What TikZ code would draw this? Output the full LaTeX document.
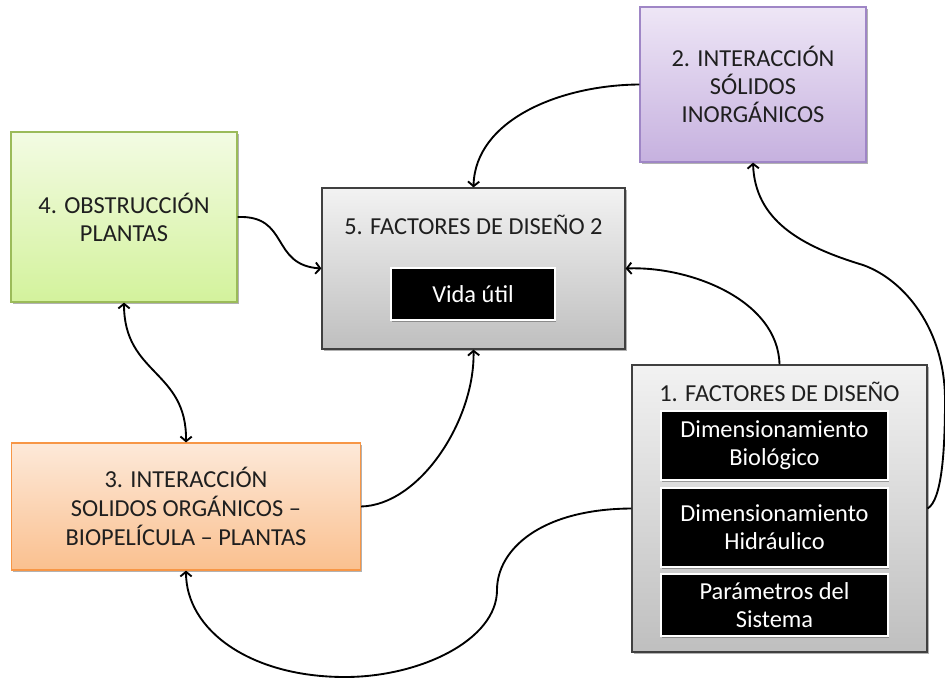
\documentclass[tikz,border=0pt]{standalone}
\usepackage{fontspec}
\setmainfont{Carlito}
\usetikzlibrary{arrows.meta,shadows}
\definecolor{purT}{HTML}{EEE6F6}
\definecolor{purB}{HTML}{C6B1DF}
\definecolor{purD}{HTML}{9F86C6}
\definecolor{grnT}{HTML}{F3FBE3}
\definecolor{grnB}{HTML}{D3F29C}
\definecolor{grnD}{HTML}{9BBB59}
\definecolor{orgT}{HTML}{FDE9D9}
\definecolor{orgB}{HTML}{FAC08F}
\definecolor{orgD}{HTML}{F79646}
\definecolor{gryT}{HTML}{F2F2F2}
\definecolor{gryB}{HTML}{BFBFBF}
\definecolor{gryD}{HTML}{404040}
\begin{document}
\begin{tikzpicture}[x=0.75pt,y=-0.75pt,
  txt/.style={font=\fontsize{18.3}{21}\selectfont, align=center, inner sep=0pt, text=black!88},
  box/.style={rectangle, txt, line width=0.9pt,
    drop shadow={shadow xshift=1.2pt,shadow yshift=-1.5pt,opacity=0.3,fill=black}},
  purplebox/.style={box, draw=purD, top color=purT, bottom color=purB},
  greenbox/.style={box, draw=grnD, top color=grnT, bottom color=grnB},
  orangebox/.style={box, draw=orgD, top color=orgT, bottom color=orgB},
  graybox/.style={box, draw=gryD, top color=gryT, bottom color=gryB},
  blackbox/.style={rectangle, txt, text=white, fill=black, draw=white, line width=1.6pt,
    drop shadow={shadow xshift=1pt,shadow yshift=-1.2pt,opacity=0.3,fill=black}},
  conn/.style={line width=1.4pt, -{Straight Barb[length=3.5pt,width=8.5pt]}},
  conn2/.style={line width=1.4pt, {Straight Barb[length=3.5pt,width=8.5pt]}-{Straight Barb[length=3.5pt,width=8.5pt]}}
]
\useasboundingbox (0,0) rectangle (945,679);

\node[purplebox, minimum width=169.5pt, minimum height=116.25pt] (b2) at (753,84.5) {2. INTERACCIÓN\\SÓLIDOS\\INORGÁNICOS};
\node[greenbox, minimum width=169.5pt, minimum height=127.5pt] (b4) at (124,217) {4. OBSTRUCCIÓN\\PLANTAS};
\node[graybox, minimum width=227.25pt, minimum height=120.75pt] (b5) at (473.5,268.5) {};
\node[txt] (b5t) at (473.5,225) {5. FACTORES DE DISEÑO 2};
\node[blackbox, minimum width=123pt, minimum height=39pt] (vida) at (473,294) {Vida útil};
\node[graybox, minimum width=221.25pt, minimum height=215.25pt] (b1) at (779.5,508.5) {};
\node[txt] (b1t) at (779.5,392) {1. FACTORES DE DISEÑO};
\node[blackbox, minimum width=170.25pt, minimum height=51.75pt] (d1) at (774.5,445.5) {Dimensionamiento\\Biológico};
\node[blackbox, minimum width=170.25pt, minimum height=59.25pt] (d2) at (774.5,527.5) {Dimensionamiento\\Hidráulico};
\node[blackbox, minimum width=170.25pt, minimum height=46.5pt] (d3) at (774.5,605) {Parámetros del\\Sistema};
\node[orangebox, minimum width=261.75pt, minimum height=95.25pt, font=\fontsize{18.3}{22}\selectfont] (b3) at (186,506.5) {3. INTERACCIÓN\\SOLIDOS ORGÁNICOS –\\BIOPELÍCULA – PLANTAS};

\coordinate (c6a) at (497,590);
\coordinate (c6b) at (345,677);
\coordinate (c7a) at (945,400);
\coordinate (c7b) at (863,265);

\draw[conn] (b2.west) .. controls (560,85) and (475,120) .. (b5.north);
\draw[conn] (b4.east) .. controls (290,215) and (270,265) .. (b5.west);
\draw[conn] (b1.north) .. controls (778,300) and (690,266) .. (b5.east);
\draw[conn] (b3.east) .. controls (420,505) and (475,420) .. (b5.south);
\draw[conn2] (b4.south) .. controls (124,375) and (187,370) .. (b3.north);
\draw[conn] (b1.west) .. controls (540,509) and (497,550) .. (c6a) .. controls (497,640) and (420,677) .. (c6b) .. controls (250,677) and (186,630) .. (b3.south);
\draw[conn] (b1.east) .. controls (942,500) and (945,450) .. (c7a) .. controls (945,330) and (905,280) .. (c7b) .. controls (800,246) and (755,220) .. (b2.south);
\end{tikzpicture}
\end{document}
